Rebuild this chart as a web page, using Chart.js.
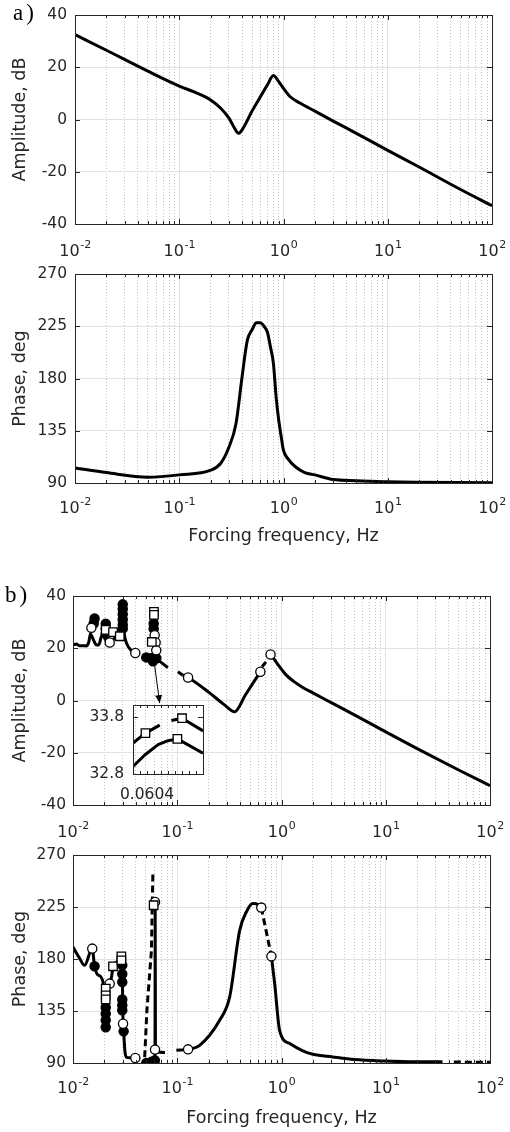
<!DOCTYPE html>
<html>
<head>
<meta charset="utf-8">
<script src="https://cdn.jsdelivr.net/npm/chart.js@4"></script>
<style>
  body { margin: 0; background: #fff; }
  #fig { position: relative; width: 510px; height: 1132px; overflow: hidden; }
  canvas { position: absolute; left: 0; }
  .lbl { position: absolute; font-family: 'Liberation Serif', 'Times New Roman', serif; font-size: 23px; line-height: 23px; color: #000; letter-spacing: 3px; }
</style>
</head>
<body>
<div id="fig">
  <canvas id="ampA" width="510" height="260" style="top:0"></canvas>
  <canvas id="phA" width="510" height="305" style="top:255px"></canvas>
  <canvas id="ampB" width="510" height="275" style="top:570px"></canvas>
  <canvas id="phB" width="510" height="297" style="top:835px"></canvas>
  <canvas id="inset" width="220" height="120" style="top:690px"></canvas>
  <div class="lbl" style="left:13px;top:1px">a)</div>
  <div class="lbl" style="left:5px;top:583px">b)</div>
</div>
<script>
// ---- axis ticks ----
const decades = [0.01, 0.1, 1, 10, 100];
const minorSteps = [2, 3, 4, 5, 6, 7, 8, 9];
const ampTicks = [-40, -20, 0, 20, 40];
const phaseTicks = [90, 135, 180, 225, 270];
const insetXTicks = [0.06030, 0.06035, 0.06040, 0.06045, 0.06050, 0.06055, 0.06060, 0.06065, 0.06070, 0.06075, 0.06080];
const insetYTicks = [32.8, 33.8];

// ---- a) amplitude ----
const ampA_f  = [0.01, 0.02, 0.05, 0.1, 0.15, 0.2, 0.25, 0.3, 0.34, 0.37, 0.4, 0.5, 0.6, 0.7, 0.8, 0.9, 1.0, 1.16, 1.45, 2, 3, 5, 10, 20, 50, 100];
const ampA_db = [32.5, 26.5, 18.5, 12.8, 10.0, 7.5, 4.3, 0.5, -3.4, -5.3, -4.0, 3.3, 8.7, 13.2, 16.8, 14.5, 11.9, 8.7, 6.2, 3.2, -0.6, -5.3, -11.8, -18.2, -26.8, -33];

// ---- a) phase ----
const phA_f   = [0.01, 0.02, 0.05, 0.1, 0.2, 0.25, 0.3, 0.35, 0.4, 0.45, 0.5, 0.55, 0.6, 0.65, 0.7, 0.75, 0.8, 0.85, 0.9, 0.95, 1.0, 1.1, 1.3, 1.6, 2, 3, 5, 10, 100];
const phA_deg = [103, 99, 95, 97, 101, 107, 121, 141, 181, 213, 222, 228, 228, 225, 220, 207, 193, 164, 144, 130, 118, 111, 104, 99, 97, 93, 92, 91, 90.3];

// ---- b) amplitude ----
const ampB_lineF  = [0.0100, 0.0108, 0.0115, 0.0125, 0.0134, 0.0142, 0.0147, 0.0152, 0.0160, 0.0168, 0.0178, 0.0187, 0.0195, 0.0203, 0.0215, 0.0228, 0.0245, 0.0265, 0.0282, 0.0292, 0.0298, 0.0303, 0.0312, 0.0330, 0.0355, 0.0396, 0.045,
                     0.0505, 0.0560, 0.0597, 0.0598, 0.0600, 0.0630, 0.0814, 0.09,
                     0.113, 0.127, 0.200, 0.280, 0.355, 0.450, 0.550, 0.627, 0.70,
                     0.785, 0.850, 0.960, 1.100, 1.300, 1.600, 2.000, 3.000, 5.000, 10.00, 20.00, 50.00, 100.0];
const ampB_lineDb = [21.2, 21.6, 21.0, 21.0, 20.9, 22.5, 25.5, 24.5, 22.5, 21.2, 21.5, 24.5, 25.5, 23.5, 22.4, 22.2, 23.5, 24.5, 25.5, 33, 35.5, 31, 25, 21.5, 19.5, 18.0, null,
                     16.5, 16.2, 16.5, 33.5, 16.0, 15.4, 12.6, null,
                     9.7, 8.8, 3.2, -1.5, -4.3, 2.1, 7.5, 11.0, null,
                     17.6, 15.8, 12.9, 9.9, 7.4, 5.0, 2.9, -0.8, -5.5, -12.0, -18.4, -26.6, -32.6];
const ampB_dashF  = [0.1016, 0.1130, 0.3, 0.650, 0.710];
const ampB_dashDb = [11.0, 9.7, null, 12.9, 14.8];
const ampB_openF  = [0.0150, 0.0225, 0.0396, 0.0607, 0.0620, 0.0629, 0.127, 0.627, 0.785];
const ampB_openDb = [27.8, 22.2, 18.2, 25.0, 22.2, 19.2, 8.8, 11.0, 17.6];
const ampB_fillF  = [0.0158, 0.0161, 0.0206, 0.0206, 0.0206, 0.0300, 0.0300, 0.0300, 0.0300, 0.0300, 0.0300, 0.0594, 0.0594, 0.0505, 0.0565, 0.0630, 0.0585];
const ampB_fillDb = [29.5, 31.4, 29.4, 27.5, 25.5, 36.8, 35.0, 33.0, 31.0, 29.0, 27.5, 29.5, 27.5, 16.5, 16.2, 16.2, 15.0];
const ampB_sqF    = [0.0206, 0.0242, 0.0281, 0.0598, 0.0598, 0.0570];
const ampB_sqDb   = [27.0, 26.2, 24.6, 33.9, 32.8, 22.4];
const arrowFrom = [0.0607, 13.5];
const arrowTo   = [0.0678, -1.0];

// ---- b) phase ----
const phB_lineF   = [0.0100, 0.0115, 0.0129, 0.0153, 0.0161, 0.0175, 0.0194, 0.0198, 0.0206, 0.0225, 0.0235, 0.0242, 0.0270, 0.0291, 0.0297, 0.0302, 0.0306, 0.0315, 0.0325, 0.0350, 0.0396, 0.0440, 0.045,
                     0.0505, 0.0560, 0.0612, 0.0614, 0.0618, 0.0762, 0.085,
                     0.098, 0.127, 0.164, 0.255, 0.318, 0.397, 0.460, 0.530, 0.600, 0.640, 0.70,
                     0.800, 0.860, 0.960, 1.200, 1.600, 2.000, 3.100, 5.000, 9.400, 20.00, 35.00];
const phB_lineDeg = [190.4, 181, 174.5, 189, 173.7, 166, 160, 121, 150, 158.7, 165, 173.7, 178, 182, 170, 124, 117.4, 100, 95, 94.5, 94.3, 94.0, null,
                     90, 91, 93, 229.3, 100, 99, null,
                     101, 101.8, 105.3, 127, 147, 204.8, 220.7, 228, 227, 224.5, null,
                     182.3, 158.7, 118, 106.8, 100.5, 97.5, 95.2, 93, 91.7, 91, 91];
const phB_dashF   = [0.0487, 0.0512, 0.0565, 0.0584, 0.3, 0.640, 0.800, 40, 45, 100];
const phB_dashDeg = [95, 136, 187, 255, null, 224.5, 182.3, null, 90.8, 90.6];
const phB_openF   = [0.0153, 0.0225, 0.0302, 0.0396, 0.0612, 0.0612, 0.127, 0.640, 0.800];
const phB_openDeg = [189, 158.7, 124, 94.3, 101.6, 229.3, 101.8, 224.5, 182.3];
const phB_fillF   = [0.0161, 0.0206, 0.0206, 0.0206, 0.0206, 0.0297, 0.0297, 0.0297, 0.0297, 0.0297, 0.0297, 0.0306, 0.0505, 0.0565, 0.0610];
const phB_fillDeg = [173.7, 138, 132.7, 127, 121, 174.5, 167, 160, 145, 140, 135.6, 117.4, 90, 91, 92.3];
const phB_sqF     = [0.0206, 0.0206, 0.0206, 0.0242, 0.0291, 0.0291, 0.0594];
const phB_sqDeg   = [154.4, 148.6, 145, 173.7, 182.3, 178.9, 226.5];

// ---- inset (zoom near 0.0604 Hz) ----
const insetUpF  = [0.06030, 0.060389, 0.060491, 0.06053, 0.060574, 0.06065, 0.06080];
const insetUpDb = [33.34, 33.51, 33.65, null, 33.73, 33.77, 33.55];
const insetLoF  = [0.06030, 0.060384, 0.060479, 0.06055, 0.060617, 0.06080];
const insetLoDb = [32.93, 33.13, 33.31, 33.38, 33.41, 33.16];
const insetSqF  = [0.060389, 0.06065, 0.060617];
const insetSqDb = [33.51, 33.77, 33.41];

// ---- styling ----
const TXT = '#262626';
const MAJOR = '#e2e2e2';
const MINOR = 'rgba(0,0,0,0.24)';
const FONT = "'DejaVu Sans', sans-serif";
Chart.defaults.font.family = FONT;
Chart.defaults.color = TXT;

const xTicks = [];
decades.forEach((d, i) => {
  xTicks.push(d);
  if (i < decades.length - 1) minorSteps.forEach(m => xTicks.push(d * m));
});

function isDecade(v) {
  const l = Math.log10(v);
  return Math.abs(l - Math.round(l)) < 1e-6;
}
function pts(fs, vs) {
  return fs.map((f, i) => ({ x: f, y: vs[i] }));
}

// box + inward ticks, MATLAB style
const boxPlugin = {
  id: 'box',
  afterDatasetsDraw(chart) {
    const { ctx, chartArea: a, scales: { x, y } } = chart;
    ctx.save();
    ctx.strokeStyle = TXT;
    ctx.lineWidth = 1;
    ctx.beginPath();
    x.ticks.forEach(t => {
      const px = Math.round(x.getPixelForValue(t.value)) + 0.5;
      const L = t.major ? 5 : 3;
      ctx.moveTo(px, a.bottom); ctx.lineTo(px, a.bottom - L);
      ctx.moveTo(px, a.top); ctx.lineTo(px, a.top + L);
    });
    y.ticks.forEach(t => {
      const py = Math.round(y.getPixelForValue(t.value)) + 0.5;
      ctx.moveTo(a.left, py); ctx.lineTo(a.left + 5, py);
      ctx.moveTo(a.right, py); ctx.lineTo(a.right - 5, py);
    });
    ctx.stroke();
    ctx.strokeRect(Math.round(a.left) + 0.5, Math.round(a.top) + 0.5,
                   Math.round(a.right - a.left), Math.round(a.bottom - a.top));
    ctx.restore();
  }
};

// decade labels 10^n with a raised exponent, placed by the x scale
const decadeLabelPlugin = {
  id: 'decLabels',
  afterDraw(chart, args, opts) {
    if (!opts.base) return;
    const { ctx, chartArea: a, scales: { x } } = chart;
    ctx.save();
    ctx.fillStyle = TXT;
    ctx.textBaseline = 'alphabetic';
    ctx.textAlign = 'left';
    decades.forEach(d => {
      const px = x.getPixelForValue(d);
      const e = String(Math.round(Math.log10(d)));
      ctx.font = '16px ' + FONT;
      const w1 = ctx.measureText('10').width;
      ctx.font = '11px ' + FONT;
      const w2 = ctx.measureText(e).width;
      const left = px - (w1 + w2) / 2;
      const by = a.bottom + opts.base;
      ctx.font = '16px ' + FONT;
      ctx.fillText('10', left, by);
      ctx.font = '11px ' + FONT;
      ctx.fillText(e, left + w1 + 0.5, by - 8);
    });
    ctx.restore();
  }
};

// arrow from the cluster down to the inset
const arrowPlugin = {
  id: 'arrow',
  afterDatasetsDraw(chart, args, opts) {
    if (!opts.from) return;
    const { ctx, scales: { x, y } } = chart;
    const x1 = x.getPixelForValue(opts.from[0]), y1 = y.getPixelForValue(opts.from[1]);
    const x2 = x.getPixelForValue(opts.to[0]), y2 = y.getPixelForValue(opts.to[1]);
    const ang = Math.atan2(y2 - y1, x2 - x1);
    ctx.save();
    ctx.strokeStyle = '#000'; ctx.fillStyle = '#000'; ctx.lineWidth = 1;
    ctx.beginPath(); ctx.moveTo(x1, y1); ctx.lineTo(x2, y2); ctx.stroke();
    ctx.beginPath();
    ctx.moveTo(x2, y2);
    ctx.lineTo(x2 - 8 * Math.cos(ang) + 3.5 * Math.sin(ang), y2 - 8 * Math.sin(ang) - 3.5 * Math.cos(ang));
    ctx.lineTo(x2 - 8 * Math.cos(ang) - 3.5 * Math.sin(ang), y2 - 8 * Math.sin(ang) + 3.5 * Math.cos(ang));
    ctx.closePath(); ctx.fill();
    ctx.restore();
  }
};

function lineSet(data, dashed, smooth) {
  return {
    data, borderColor: '#000', borderWidth: 3, pointRadius: 0,
    borderDash: dashed ? [7, 4] : [], spanGaps: false, order: 2,
    cubicInterpolationMode: smooth ? 'monotone' : 'default', tension: 0,
    borderCapStyle: 'butt', borderJoinStyle: 'round'
  };
}
function markerSet(data, kind) {
  const filled = kind === 'fill';
  return {
    data, showLine: false, order: kind === 'sq' ? 0 : 1,
    pointStyle: kind === 'sq' ? 'rect' : 'circle',
    pointRadius: kind === 'sq' ? 6 : 4.6,
    pointBackgroundColor: filled ? '#000' : '#fff',
    pointBorderColor: '#000', pointBorderWidth: 1.3
  };
}

function makeOptions(cfg) {
  return {
    responsive: false, animation: false, events: [],
    layout: { padding: { top: cfg.top, right: cfg.right, left: 0, bottom: 0 } },
    plugins: { legend: { display: false }, tooltip: { enabled: false },
               arrow: cfg.arrow || {}, decLabels: { base: cfg.base } },
    scales: {
      x: {
        type: 'logarithmic', min: 0.01, max: 100,
        afterBuildTicks: s => { s.ticks = xTicks.map(v => ({ value: v, major: isDecade(v) })); },
        afterFit: s => { s.height = cfg.xh; s.paddingLeft = 0; s.paddingRight = 0; },
        ticks: { display: false },
        grid: { drawTicks: false, color: c => (c.tick && isDecade(c.tick.value)) ? MAJOR : MINOR },
        border: { display: false, dash: c => (c.tick && !isDecade(c.tick.value)) ? [1, 2] : [] },
        title: { display: !!cfg.xtitle, text: cfg.xtitle || '', font: { size: 17.5 },
                 padding: { top: 0, bottom: cfg.tpad || 0 } }
      },
      y: {
        min: cfg.yTicks[0], max: cfg.yTicks[cfg.yTicks.length - 1],
        afterBuildTicks: s => { s.ticks = cfg.yTicks.map(v => ({ value: v })); },
        afterFit: s => { s.width = cfg.yw; s.paddingTop = 0; s.paddingBottom = 0; },
        ticks: { padding: cfg.ypad, font: { size: 15.5 } },
        grid: { drawTicks: false, color: MAJOR },
        border: { display: false },
        title: { display: true, text: cfg.ytitle, font: { size: 17.5 }, padding: { top: 10, bottom: 0 } }
      }
    }
  };
}

// a) amplitude
new Chart(document.getElementById('ampA'), {
  type: 'line',
  data: { datasets: [lineSet(pts(ampA_f, ampA_db), false, true)] },
  options: makeOptions({ top: 15, right: 18, xh: 36, base: 32, yw: 75, ypad: 8, yTicks: ampTicks, ytitle: 'Amplitude, dB' }),
  plugins: [boxPlugin, decadeLabelPlugin]
});

// a) phase
new Chart(document.getElementById('phA'), {
  type: 'line',
  data: { datasets: [lineSet(pts(phA_f, phA_deg), false, true)] },
  options: makeOptions({ top: 19, right: 18, xh: 77, base: 29.5, yw: 75, ypad: 8, yTicks: phaseTicks, ytitle: 'Phase, deg',
                         xtitle: 'Forcing frequency, Hz', tpad: 13.5 }),
  plugins: [boxPlugin, decadeLabelPlugin]
});

// b) amplitude
new Chart(document.getElementById('ampB'), {
  type: 'line',
  data: { datasets: [
    markerSet(pts(ampB_sqF, ampB_sqDb), 'sq'),
    markerSet(pts(ampB_openF, ampB_openDb), 'open'),
    markerSet(pts(ampB_fillF, ampB_fillDb), 'fill'),
    lineSet(pts(ampB_lineF, ampB_lineDb), false, true),
    lineSet(pts(ampB_dashF, ampB_dashDb), true, false)
  ] },
  options: makeOptions({ top: 26, right: 20, xh: 40, base: 32.3, yw: 73, ypad: 7, yTicks: ampTicks, ytitle: 'Amplitude, dB',
                         arrow: { from: arrowFrom, to: arrowTo } }),
  plugins: [boxPlugin, arrowPlugin, decadeLabelPlugin]
});

// b) phase
new Chart(document.getElementById('phB'), {
  type: 'line',
  data: { datasets: [
    markerSet(pts(phB_sqF, phB_sqDeg), 'sq'),
    markerSet(pts(phB_openF, phB_openDeg), 'open'),
    markerSet(pts(phB_fillF, phB_fillDeg), 'fill'),
    lineSet(pts(phB_lineF, phB_lineDeg), false, true),
    lineSet(pts(phB_dashF, phB_dashDeg), true, false)
  ] },
  options: makeOptions({ top: 20, right: 20, xh: 69, base: 29.8, yw: 73, ypad: 7, yTicks: phaseTicks, ytitle: 'Phase, deg',
                         xtitle: 'Forcing frequency, Hz', tpad: 3 }),
  plugins: [boxPlugin, decadeLabelPlugin]
});

// inset
new Chart(document.getElementById('inset'), {
  type: 'line',
  data: { datasets: [
    markerSet(pts(insetSqF, insetSqDb), 'sq'),
    lineSet(pts(insetUpF, insetUpDb), false, false),
    lineSet(pts(insetLoF, insetLoDb), false, false)
  ] },
  options: {
    responsive: false, animation: false, events: [],
    layout: { padding: { top: 15, right: 17, left: 0, bottom: 0 } },
    plugins: { legend: { display: false }, tooltip: { enabled: false } },
    scales: {
      x: {
        type: 'linear', min: insetXTicks[0], max: insetXTicks[insetXTicks.length - 1],
        afterBuildTicks: s => { s.ticks = insetXTicks.map(v => ({ value: v })); },
        afterFit: s => { s.height = 36; s.paddingLeft = 0; s.paddingRight = 0; },
        ticks: { autoSkip: false, maxRotation: 0, padding: 11.5, font: { size: 15.5 },
                 callback: v => Math.abs(v - 0.0604) < 1e-9 ? '0.0604' : '' },
        grid: { display: false, drawTicks: false },
        border: { display: false }
      },
      y: {
        min: 32.8, max: 34,
        afterBuildTicks: s => { s.ticks = insetYTicks.map(v => ({ value: v })); },
        afterFit: s => { s.width = 133; s.paddingTop = 0; s.paddingBottom = 0; },
        ticks: { padding: 9, font: { size: 15.5 }, callback: v => v.toFixed(1) },
        grid: { display: false, drawTicks: false },
        border: { display: false }
      }
    }
  },
  plugins: [boxPlugin]
});
</script>
</body>
</html>
